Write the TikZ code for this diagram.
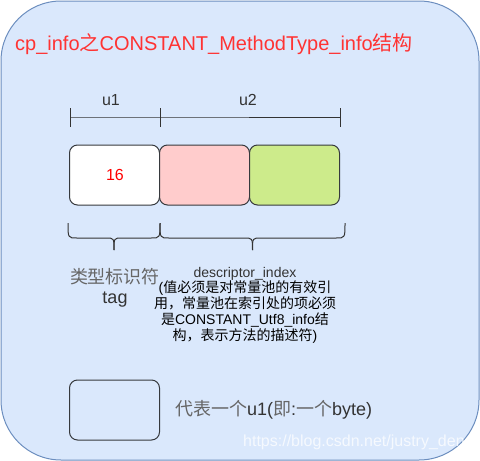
\documentclass[tikz,border=0pt]{standalone}
\usepackage{fontspec}
\setmainfont{Liberation Sans}
\newfontfamily\cjk{Noto Sans CJK SC}
\definecolor{outerfill}{HTML}{DAE8FC}
\definecolor{outerline}{HTML}{6C8EBF}
\definecolor{titlered}{HTML}{FF3333}
\definecolor{cellline}{HTML}{36393D}
\definecolor{pinkfill}{HTML}{FFCCCC}
\definecolor{greenfill}{HTML}{CDEB8B}
\definecolor{darktext}{HTML}{333333}
\definecolor{cjkgray}{HTML}{666666}
\begin{document}
\begin{tikzpicture}[x=1pt,y=-1pt,
  cell/.style={draw=cellline, line width=1pt, rounded corners=8pt, minimum width=90pt, minimum height=60pt, inner sep=0pt},
  dimline/.style={draw=darktext, line width=1pt},
  bracepath/.style={draw=darktext, line width=1pt},
  f14/.style={font=\fontsize{14}{15.75}\selectfont},
  f16/.style={font=\fontsize{16}{18}\selectfont},
  f18/.style={font=\fontsize{18}{20}\selectfont},
  f20/.style={font=\fontsize{20}{24}\selectfont}]
\useasboundingbox (0,0) rectangle (480,461);
% outer container
\draw[fill=outerfill, draw=outerline, line width=1pt, rounded corners=60pt] (1,1) rectangle (479,460);
% title
\node[f20, anchor=base west, text=titlered, inner sep=0pt] (title) at (15,50)
  {cp\_info{\cjk 之}CONSTANT\_MethodType\_info{\cjk 结构}};
% dimension line
\coordinate (d0) at (70,117);
\coordinate (d1) at (160,117);
\coordinate (d2) at (340,117);
\coordinate (t0a) at (70,108); \coordinate (t0b) at (70,127);
\coordinate (t1a) at (160,108); \coordinate (t1b) at (160,127);
\coordinate (t2a) at (340,108); \coordinate (t2b) at (340,127);
\draw[dimline] (d0) -- (d1) -- (d2);
\draw[dimline] (t0a) -- (t0b);
\draw[dimline] (t1a) -- (t1b);
\draw[dimline] (t2a) -- (t2b);
\node[f16, text=darktext] (u1) at (111,100) {u1};
\node[f16, text=darktext] (u2) at (248,100) {u2};
% cells
\node[cell, fill=white] (b1) at (114.5,175) {};
\node[cell, fill=pinkfill] (b2) at (204.5,175) {};
\node[cell, fill=greenfill] (b3) at (294.5,175) {};
\node[f16, text=red] (n16) at (115,175) {16};
% braces
\draw[bracepath] (68,223) .. controls (68,238) .. (77,238) -- (106,238) .. controls (114,238) .. (114,250);
\draw[bracepath] (160,223) .. controls (160,238) .. (151,238) -- (122,238) .. controls (114,238) .. (114,250);
\draw[bracepath] (160,223) .. controls (160,238) .. (169,238) -- (244,238) .. controls (252.5,238) .. (252.5,250);
\draw[bracepath] (345,223) .. controls (345,238) .. (336,238) -- (261,238) .. controls (252.5,238) .. (252.5,250);
% labels
\node[f18, text=cjkgray] (tagcn) at (115,277) {\cjk 类型标识符};
\node[f18, text=darktext] (tag) at (115,300) {tag};
\node[f14, text=black, align=center, inner sep=0pt] (desc) at (245,305)
  {\textcolor{darktext}{descriptor\_index}\\
   ({\cjk 值必须是对常量池的有效引}\\
   {\cjk 用，常量池在索引处的项必须}\\
   {\cjk 是}CONSTANT\_Utf8\_info{\cjk 结}\\
   {\cjk 构，表示方法的描述符})};
% legend
\node[cell, fill=none] (legend) at (114.5,410) {};
\node[f18, anchor=west, inner sep=0pt, text=darktext] (legtext) at (175,410)
  {\textcolor{cjkgray}{\cjk 代表一个}u1(\textcolor{cjkgray}{\cjk 即}:\textcolor{cjkgray}{\cjk 一个}byte)};
% watermark
\node[f16, anchor=west, inner sep=0pt, text=white, opacity=0.75] (wm) at (243,442) {https://blog.csdn.net/justry\_deng};
\end{tikzpicture}
\end{document}
